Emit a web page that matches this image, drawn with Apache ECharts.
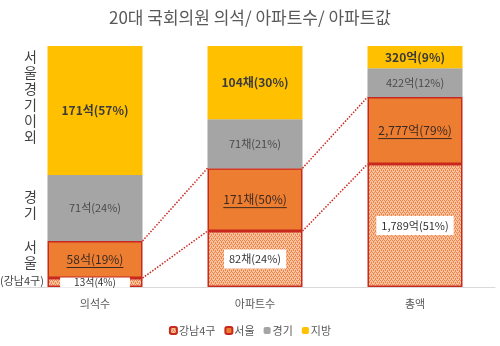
<!DOCTYPE html>
<html>
<head>
<meta charset="utf-8">
<script src="https://cdn.jsdelivr.net/npm/echarts@6/dist/echarts.min.js"></script>
<style>html,body{margin:0;padding:0;background:#fff;}#c{width:500px;height:346px;}</style>
</head>
<body>
<div id="c"></div>
<script>
// ---- data ----
const categories = ['의석수', '아파트수', '총액'];
const seriesNames = ['강남4구', '서울', '경기', '지방'];
// segment shares (%) as drawn in the picture
const gangnam = [3.7, 23.2, 51.0];
const seoul   = [15.4, 26.1, 27.8];
const gyeonggi = [27.4, 20.3, 12.0];
const jibang  = [53.5, 30.4, 9.2];
// label texts
const gangnamLabels = ['13석(4%)', '82채(24%)', '1,789억(51%)'];
const seoulLabels   = ['58석(19%)', '171채(50%)', '2,777억(79%)'];
const gyeonggiLabels = ['71석(24%)', '71채(21%)', '422억(12%)'];
const jibangLabels  = ['171석(57%)', '104채(30%)', '320억(9%)'];
const title = '20대 국회의원 의석/ 아파트수/ 아파트값';

const FONT = '"Noto Sans CJK KR", "Noto Sans", sans-serif';
const BAR_W = 95;
const RED = '#C8281E';

// dotted pattern for 강남4구
const pc = document.createElement('canvas');
pc.width = 4; pc.height = 4;
const pctx = pc.getContext('2d');
pctx.fillStyle = '#F8C3A0'; pctx.fillRect(0, 0, 4, 4);
pctx.fillStyle = '#EE8447';
[[0,0],[2,0],[1,2],[3,2],[1,1],[3,3]].forEach(([x, y]) => pctx.fillRect(x, y, 1, 1));

// cumulative levels for connectors and underlines
const cumG = gangnam.slice();
const cumS = gangnam.map((v, i) => v + seoul[i]);
const connData = [];
for (let i = 0; i < categories.length - 1; i++) {
  connData.push([i, cumG[i], cumS[i], cumG[i + 1], cumS[i + 1]]);
}
const underlineData = categories.map((c, i) => [i, cumG[i] + seoul[i] / 2]);

const mc = document.createElement('canvas').getContext('2d');
mc.font = '12px ' + FONT;
const seoulWidths = seoulLabels.map(t => mc.measureText(t).width);

const chart = echarts.init(document.getElementById('c'), null, {renderer: 'canvas'});
const gangnamData = gangnam.map((v, i) => i === 0 ? {value: v, label: {padding: [0, 14], lineHeight: 10, fontSize: 10}} : v);

chart.setOption({
  animation: false,
  textStyle: {fontFamily: FONT},
  title: {
    text: title, left: 'center', top: 4,
    textStyle: {fontSize: 17, fontWeight: 'normal', color: '#595959', fontFamily: FONT}
  },
  legend: {
    bottom: 5, left: 'center',
    itemWidth: 7, itemHeight: 7, itemGap: 9,
    data: seriesNames,
    textStyle: {fontSize: 11, color: '#595959', padding: [0, 0, 0, -3]}
  },
  grid: {left: 15, right: 5, top: 46, bottom: 59},
  xAxis: {
    type: 'category', data: categories,
    axisTick: {show: false},
    axisLine: {lineStyle: {color: '#D9D9D9', width: 1}},
    axisLabel: {color: '#595959', fontSize: 11, margin: 11}
  },
  yAxis: {type: 'value', min: 0, max: 100, show: false},
  graphic: [
    {type: 'text', left: 24, top: 49, style: {text: '서\n울\n경\n기\n이\n외', font: '14px ' + FONT, fill: '#404040', lineHeight: 16, align: 'center'}},
    {type: 'text', left: 24, top: 189, style: {text: '경\n기', font: '14px ' + FONT, fill: '#404040', lineHeight: 16}},
    {type: 'text', left: 24, top: 239, style: {text: '서\n울', font: '14px ' + FONT, fill: '#404040', lineHeight: 16}},
    {type: 'text', left: 0, top: 275, style: {text: '(강남4구)', font: '11px ' + FONT, fill: '#404040'}}
  ],
  series: [
    {
      name: '강남4구', type: 'bar', stack: 't', barWidth: BAR_W, data: gangnamData,
      itemStyle: {color: {image: pc, repeat: 'repeat'}, borderColor: RED, borderWidth: 1.5},
      label: {show: true, position: 'inside', formatter: p => gangnamLabels[p.dataIndex],
        color: '#333', fontSize: 11, backgroundColor: '#fff', padding: [4, 5]}
    },
    {
      name: '서울', type: 'bar', stack: 't', barWidth: BAR_W, data: seoul,
      itemStyle: {color: '#ED7D31', borderColor: RED, borderWidth: 1.5},
      label: {show: true, position: 'inside', formatter: p => seoulLabels[p.dataIndex],
        color: '#3B2A20', fontSize: 12}
    },
    {
      name: '경기', type: 'bar', stack: 't', barWidth: BAR_W, data: gyeonggi,
      itemStyle: {color: '#A5A5A5'},
      label: {show: true, position: 'inside', formatter: p => gyeonggiLabels[p.dataIndex],
        color: '#4A4A4A', fontSize: 11}
    },
    {
      name: '지방', type: 'bar', stack: 't', barWidth: BAR_W, data: jibang,
      itemStyle: {color: '#FFC000'},
      label: {show: true, position: 'inside', formatter: p => jibangLabels[p.dataIndex],
        color: '#3A3A3A', fontSize: 12, fontWeight: 'bold'}
    },
    {
      type: 'custom', name: 'conn', silent: true, z: 5,
      data: connData,
      renderItem: function (params, api) {
        const i = api.value(0);
        const half = BAR_W / 2;
        const a1 = api.coord([i, api.value(1)]);
        const b1 = api.coord([i, api.value(2)]);
        const a2 = api.coord([i + 1, api.value(3)]);
        const b2 = api.coord([i + 1, api.value(4)]);
        const st = {stroke: RED, lineWidth: 1.5, lineDash: [1.5, 1.5]};
        return {type: 'group', children: [
          {type: 'line', shape: {x1: a1[0] + half, y1: a1[1], x2: a2[0] - half, y2: a2[1]}, style: st},
          {type: 'line', shape: {x1: b1[0] + half, y1: b1[1], x2: b2[0] - half, y2: b2[1]}, style: st}
        ]};
      }
    },
    {
      type: 'custom', name: 'ul', silent: true, z: 5,
      data: underlineData,
      renderItem: function (params, api) {
        const i = api.value(0);
        const p = api.coord([i, api.value(1)]);
        const w = seoulWidths[params.dataIndex];
        return {type: 'line', shape: {x1: p[0] - w / 2, y1: p[1] + 8, x2: p[0] + w / 2, y2: p[1] + 8},
          style: {stroke: '#3B2A20', lineWidth: 1}};
      }
    }
  ]
});
</script>
</body>
</html>
